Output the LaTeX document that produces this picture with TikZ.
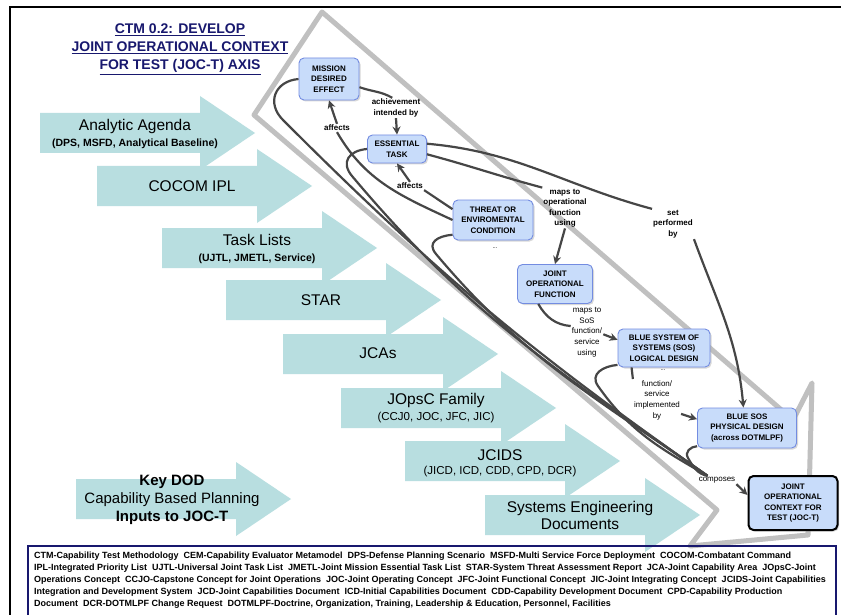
\documentclass[tikz,border=0pt]{standalone}
\usepackage{fontspec}
\setmainfont{Liberation Sans}
\usetikzlibrary{arrows.meta,shadows,positioning}
\definecolor{cyanarrow}{RGB}{184,222,224}
\definecolor{conceptfill}{RGB}{200,220,250}
\definecolor{conceptline}{RGB}{115,140,225}
\definecolor{linkgray}{RGB}{70,70,70}
\definecolor{bandgray}{RGB}{192,192,192}
\definecolor{titleblue}{RGB}{24,24,110}
\newcommand{\inputarrow}[2]{\fill[cyanarrow] (#1,#2-20) -- ++(160,0) -- ++(0,-17) -- ++(55,37) -- ++(-55,37) -- ++(0,-17) -- ++(-160,0) -- cycle;}

\begin{document}
\begin{tikzpicture}[x=1pt, y=-1pt,
  link/.style = {draw=linkgray, line width=2.2pt},
  linkarrow/.style = {link, -{Stealth[length=8pt, width=8pt]}},
  concept/.style = {draw=conceptline, line width=0.9pt, fill=conceptfill, rounded corners=5pt, align=center, inner sep=2pt,
    font=\bfseries\fontsize{8}{10.5}\selectfont, drop shadow={shadow xshift=1.5pt, shadow yshift=-1.5pt, fill=black!30}},
  relation/.style = {align=center, inner sep=1pt, font=\bfseries\fontsize{8}{10.5}\selectfont},
  thinrelation/.style = {align=center, inner sep=1pt, font=\fontsize{8}{10.7}\selectfont},
  bigtext/.style = {font=\fontsize{15.5}{17}\selectfont, align=center},
  subtext/.style = {font=\fontsize{11.5}{14}\selectfont},
  boldsub/.style = {font=\bfseries\fontsize{10.5}{14}\selectfont}]
\useasboundingbox (0,0) rectangle (841,615);
\fill[white] (0,0) rectangle (841,615);
\draw[line width=2.5pt] (10,615) -- (10,7) -- (841,7);

\foreach \x/\y in {40/133, 97/186, 162/248, 226/300, 283/354, 341/408, 405/461, 485/515, 76/499}
  {\inputarrow{\x}{\y}}

\node[bigtext] (agenda) at (135,126) {Analytic Agenda};
\node[boldsub] (agendasub) at (135,144) {(DPS, MSFD, Analytical Baseline)};
\node[bigtext] (cocom) at (192,186) {COCOM IPL};
\node[bigtext] (tasks) at (257,240) {Task Lists};
\node[boldsub] (taskssub) at (257,259) {(UJTL, JMETL, Service)};
\node[bigtext] (star) at (321,300) {STAR};
\node[bigtext] (jcas) at (378,353) {JCAs};
\node[bigtext] (jopsc) at (436,400) {JOpsC Family};
\node[subtext] (jopscsub) at (436,418) {(CCJ0, JOC, JFC, JIC)};
\node[bigtext] (jcids) at (500,455) {JCIDS};
\node[subtext] (jcidssub) at (500,472) {(JICD, ICD, CDD, CPD, DCR)};
\node[bigtext] (syseng) at (580,515) {Systems Engineering\\Documents};
\node[align=center, font=\fontsize{15}{18}\selectfont] (keydod) at (172,500)
  {\textbf{Key DOD}\\Capability Based Planning\\\textbf{Inputs to JOC-T}};

\draw[bandgray, line width=5pt, line join=round] (254,115) -- (322,12) -- (793,420) -- (812,383) -- (808,535) -- (690,546) -- (717,510) -- cycle;

\node[align=center, text=titleblue, font=\bfseries\fontsize{14}{18}\selectfont] (title) at (180,49)
  {\underline{CTM 0.2: DEVELOP}\\\underline{JOINT OPERATIONAL CONTEXT}\\\underline{FOR TEST (JOC-T) AXIS}};

\node[concept, minimum width=60, minimum height=42] (effect) at (329,79) {MISSION\\DESIRED\\EFFECT};
\node[concept, minimum width=59, minimum height=28] (task) at (397,149) {ESSENTIAL\\TASK};
\node[concept, minimum width=80, minimum height=40] (threat) at (493,220) {THREAT OR\\ENVIROMENTAL\\CONDITION};
\node[concept, minimum width=75, minimum height=39] (opfunc) at (555,284) {JOINT\\OPERATIONAL\\FUNCTION};
\node[concept, minimum width=92, minimum height=38] (logical) at (664,348) {BLUE SYSTEM OF\\SYSTEMS (SOS)\\LOGICAL DESIGN};
\node[concept, minimum width=99, minimum height=40] (physical) at (747,428) {BLUE SOS\\PHYSICAL DESIGN\\(across DOTMLPF)};
\node[concept, draw=black, line width=2pt, minimum width=89, minimum height=54] (joct) at (793,503) {JOINT\\OPERATIONAL\\CONTEXT FOR\\TEST (JOC-T)};

\node[relation, font=\fontsize{6}{6}\selectfont] (taskdots) at (397,167) {...};
\node[relation, font=\fontsize{6}{6}\selectfont] (threatdots) at (495,248) {...};
\node[relation, font=\fontsize{6}{6}\selectfont] (logicaldots) at (663,370) {...};

\node[relation] (achieved) at (396,108) {achievement\\intended by};
\node[relation] (affectsup) at (337,128) {affects};
\node[relation] (affectstask) at (410,186) {affects};
\node[relation] (mapsop) at (565,208) {maps to\\operational\\function\\using};
\node[relation] (performed) at (673,224) {set\\performed\\by};
\node[thinrelation] (mapssos) at (587,332) {maps to\\SoS\\function/\\service\\using};
\node[thinrelation] (implemented) at (657,400) {function/\\service\\implemented\\by};
\node[thinrelation] (composes) at (717,480) {composes};
\coordinate (merge) at ([xshift=10pt]composes.north west);

\draw[link] (effect.-15) to[out=-20, in=150] (achieved.110);
\draw[linkarrow] (achieved.south) -- (task.north);
\draw[link] (threat.west) to[out=155, in=-60] (affectsup.south);
\draw[linkarrow] (affectsup.north) -- (effect.south);
\draw[link] (threat.165) -- (affectstask.south east);
\draw[linkarrow] (affectstask.north) -- (task.south);
\draw[link] (task.-10) to[out=-15, in=165] (mapsop.north west);
\draw[linkarrow] (mapsop.south) -- (opfunc.north);
\draw[link] (task.10) to[out=-5, in=165] (performed.north west);
\draw[linkarrow] (performed.south east) to[out=-70, in=95] (physical.100);
\draw[link] (opfunc.-130) to[out=-60, in=175] (mapssos.160);
\draw[linkarrow] (mapssos.-8) -- (logical.170);
\draw[link] ([xshift=14pt]logical.south west) -- (implemented.north west);
\draw[linkarrow] (implemented.-30) -- (physical.170);
\draw[linkarrow] (composes.south east) -- (joct.170);

\draw[link] (effect.west) to[out=185, in=135, looseness=1.4] (283,120) to[out=-45, in=145] (merge);
\draw[link] (task.west) to[out=185, in=130, looseness=1.5] (352,176) to[out=-50, in=145] (merge);
\draw[link] (threat.200) to[out=185, in=130, looseness=1.5] (436,254) to[out=-50, in=145] (merge);
\draw[link] (logical.200) to[out=185, in=125, looseness=1.3] (598,386) to[out=-55, in=150] (merge);
\draw[link] (physical.200) to[out=185, in=120, looseness=1.2] (688,458) to[out=-60, in=170] (merge);

\draw[titleblue, line width=1.2pt] (28,546) rectangle (836,630);
\node[anchor=north west, align=left, inner sep=0pt, font=\bfseries\fontsize{9}{12}\selectfont] (glossary) at (34,552)
  {CTM-Capability Test Methodology\ \ CEM-Capability Evaluator Metamodel\ \ DPS-Defense Planning Scenario\ \ MSFD-Multi Service Force Deployment\ \ COCOM-Combatant Command\\
   IPL-Integrated Priority List\ \ UJTL-Universal Joint Task List\ \ JMETL-Joint Mission Essential Task List\ \ STAR-System Threat Assessment Report\ \ JCA-Joint Capability Area\ \ JOpsC-Joint\\
   Operations Concept\ \ CCJO-Capstone Concept for Joint Operations\ \ JOC-Joint Operating Concept\ \ JFC-Joint Functional Concept\ \ JIC-Joint Integrating Concept\ \ JCIDS-Joint Capabilities\\
   Integration and Development System\ \ JCD-Joint Capabilities Document\ \ ICD-Initial Capabilities Document\ \ CDD-Capability Development Document\ \ CPD-Capability Production\\
   Document\ \ DCR-DOTMLPF Change Request\ \ DOTMLPF-Doctrine, Organization, Training, Leadership \& Education, Personnel, Facilities};
\end{tikzpicture}
\end{document}
